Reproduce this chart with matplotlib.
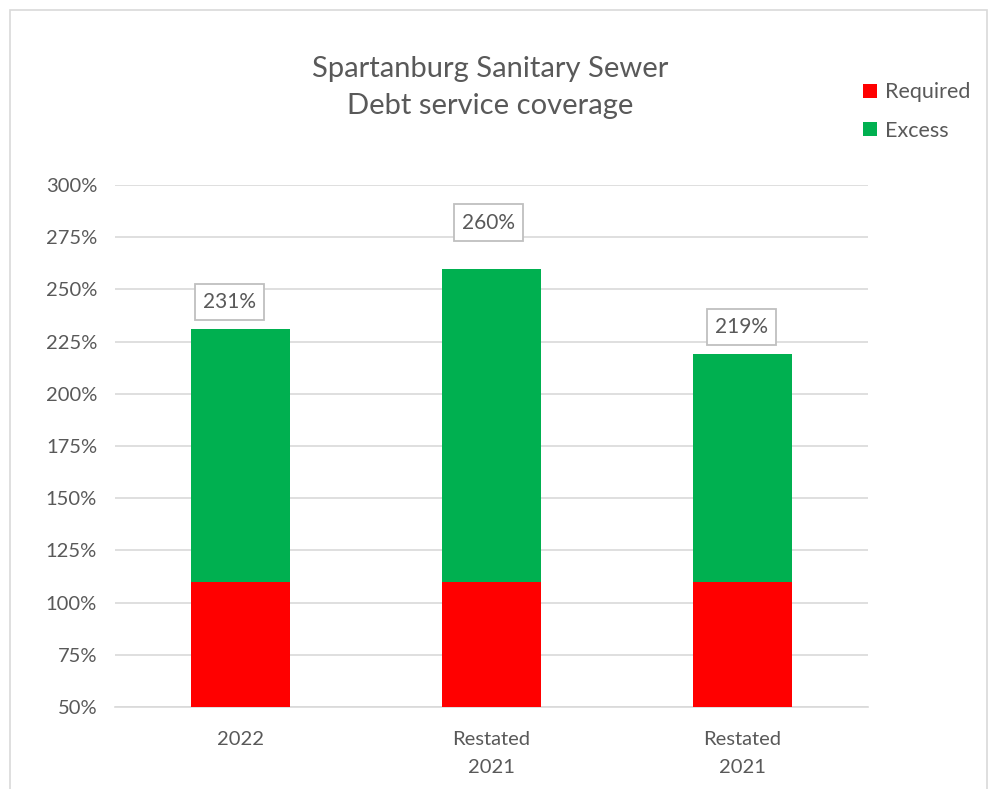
import numpy as np
import matplotlib.pyplot as plt
from matplotlib.patches import Rectangle

plt.rcParams['font.family'] = ['Lato', 'DejaVu Sans']

categories = ['2022', 'Restated\n2021', 'Restated\n2021']
required = [110, 110, 110]
total = [231, 260, 219]
excess = [t - r for t, r in zip(total, required)]
# label placement relative to bar top: (x shift in px, lift in %)
label_dx = [-11, -3, -1]
label_lift = [13, 22, 13]

gray = '#595959'

fig = plt.figure(figsize=(9.92, 7.89), dpi=100)
ax = fig.add_axes([0.116, 0.104, 0.759, 0.6615])

x = np.arange(len(categories))
ax.bar(x, np.array(required) - 50, bottom=50, width=0.395, color='#FF0000', label='Required', zorder=3)
ax.bar(x, excess, bottom=required, width=0.395, color='#00B050', label='Excess', zorder=3)

for xi, t, dx, lift in zip(x, total, label_dx, label_lift):
    ax.annotate(f'{t}%', (xi, t + lift), xytext=(dx * 0.72, 0), textcoords='offset points',
                ha='center', va='center', fontsize=15, color=gray,
                bbox=dict(boxstyle='square,pad=0.4', fc='white', ec='#bfbfbf', lw=1.3), zorder=4)

ax.set_xlim(-0.5, 2.5)
ax.set_ylim(50, 300)
ax.set_yticks(np.arange(50, 301, 25))
ax.set_yticklabels([f'{v}%' for v in range(50, 301, 25)])
ax.set_xticks(x)
ax.set_xticklabels(categories, linespacing=1.8)
ax.tick_params(length=0, labelsize=14.5, colors=gray, pad=13)
ax.tick_params(axis='x', pad=17)
ax.grid(axis='y', color='#d9d9d9', lw=1.2, zorder=0)
for s in ['top', 'right', 'left']:
    ax.spines[s].set_visible(False)
ax.spines['bottom'].set_color('#d9d9d9')
ax.spines['bottom'].set_linewidth(1.2)

fig.text(0.494, 0.889, 'Spartanburg Sanitary Sewer\nDebt service coverage', ha='center', va='center',
         fontsize=21, color=gray, linespacing=1.5)

leg = fig.legend(loc='upper left', bbox_to_anchor=(0.85, 0.92), frameon=False, fontsize=15.5,
                 handlelength=0.65, handleheight=0.65, handletextpad=0.4, labelspacing=0.85)
for t in leg.get_texts():
    t.set_color(gray)

fig.patches.append(Rectangle((0.01, -0.01), 0.985, 0.997, transform=fig.transFigure,
                             fill=False, ec='#d9d9d9', lw=1.2))

fig.savefig('out.png', dpi=100)
